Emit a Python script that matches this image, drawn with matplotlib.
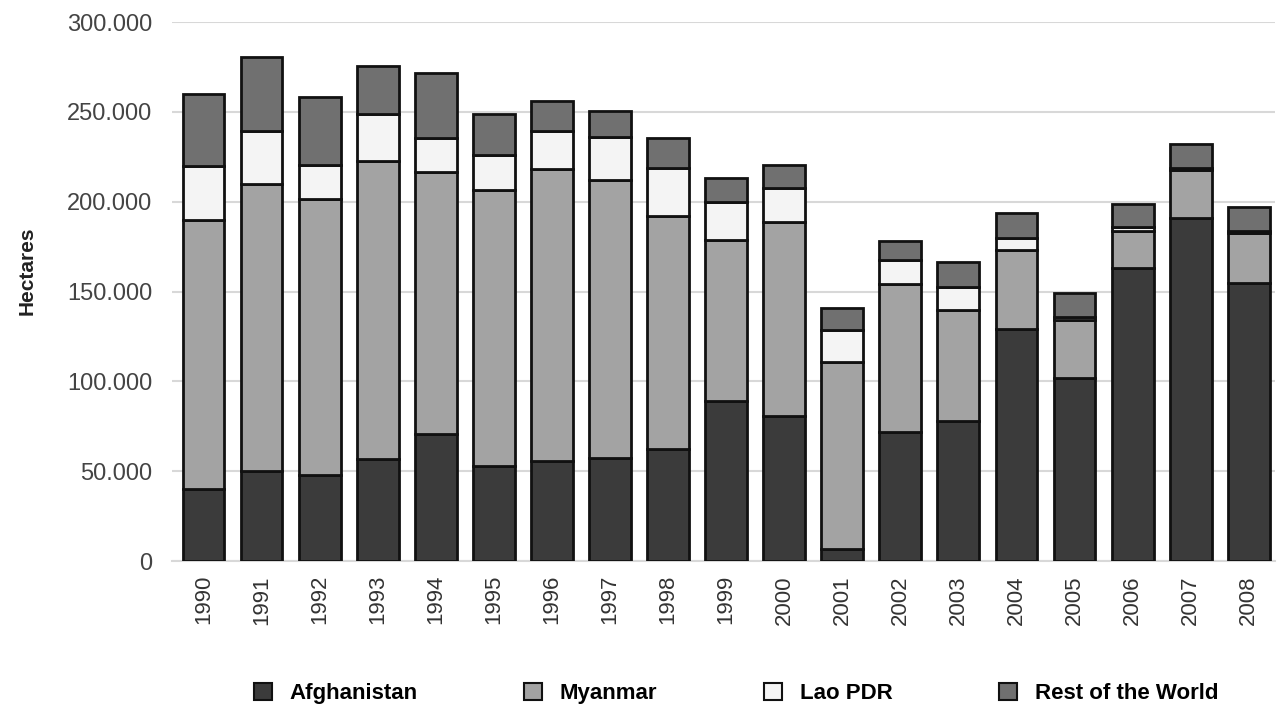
import numpy as np
import matplotlib.pyplot as plt
from matplotlib.patches import Patch
from matplotlib.ticker import FuncFormatter

# Anos e area cultivada (hectares)
anos = [str(a) for a in range(1990, 2009)]
afghanistan = [40000, 50000, 48000, 57000, 70500, 53000, 56000, 57500, 62500, 89000,
               80500, 7000, 72000, 78000, 129000, 102000, 163000, 191000, 155000]
myanmar = [150000, 160000, 153500, 165500, 146000, 153500, 162000, 154500, 129500, 89500,
           108500, 104000, 82000, 62000, 44000, 32000, 21000, 26500, 27500]
lao_pdr = [30000, 29500, 19000, 26500, 19000, 19500, 21500, 24000, 27000, 21500,
           18500, 17500, 13500, 12500, 7000, 2000, 2000, 1500, 1500]
resto_mundo = [40000, 41000, 38000, 26500, 36000, 23000, 16500, 14500, 16500, 13500,
               13000, 12500, 10500, 14000, 14000, 13000, 13000, 13000, 13000]

series = [
    ("Afghanistan", afghanistan, "#3b3b3b"),
    ("Myanmar", myanmar, "#a3a3a3"),
    ("Lao PDR", lao_pdr, "#f4f4f4"),
    ("Rest of the World", resto_mundo, "#707070"),
]

plt.rcParams['font.family'] = ['Liberation Sans', 'DejaVu Sans']

fig = plt.figure(figsize=(12.8, 7.13), dpi=100)
ax = fig.add_axes([0.134, 0.213, 0.862, 0.756])

x = np.arange(len(anos))
base = np.zeros(len(anos))
for nome, valores, cor in series:
    ax.bar(x, valores, bottom=base, width=0.72, color=cor, edgecolor='#111111',
           linewidth=2, zorder=3)
    base += np.array(valores)

ax.set_xlim(-0.55, len(anos) - 0.55)
ax.set_ylim(0, 300000)
ax.set_yticks(np.arange(0, 300001, 50000))
ax.yaxis.set_major_formatter(FuncFormatter(lambda v, p: f"{int(v):,}".replace(",", ".")))
ax.set_xticks(x)
ax.set_xticklabels(anos, rotation=90)
ax.tick_params(axis='y', length=0, labelsize=17, labelcolor='#444444', pad=14)
ax.tick_params(axis='x', length=0, labelsize=16, labelcolor='#333333', pad=10)

ax.grid(axis='y', color='#d8d8d8', linewidth=1.5, zorder=0)
for lado in ['top', 'right', 'left']:
    ax.spines[lado].set_visible(False)
ax.spines['bottom'].set_color('#d8d8d8')
ax.spines['bottom'].set_linewidth(1.5)

fig.text(0.014, 0.62, "Hectares", rotation=90, fontsize=15, fontweight='bold',
         color='#222222', ha='left', va='center')

handles = [Patch(facecolor=cor, edgecolor='#111111', linewidth=1.5, label=nome)
           for nome, _, cor in series]
fig.legend(handles=handles, loc='center', bbox_to_anchor=(0.575, 0.027), ncol=4,
           frameon=False, prop={'weight': 'bold', 'size': 16},
           handlelength=0.8, handleheight=0.8, handletextpad=0.8, columnspacing=4.8)

fig.savefig("out.png", dpi=100)
